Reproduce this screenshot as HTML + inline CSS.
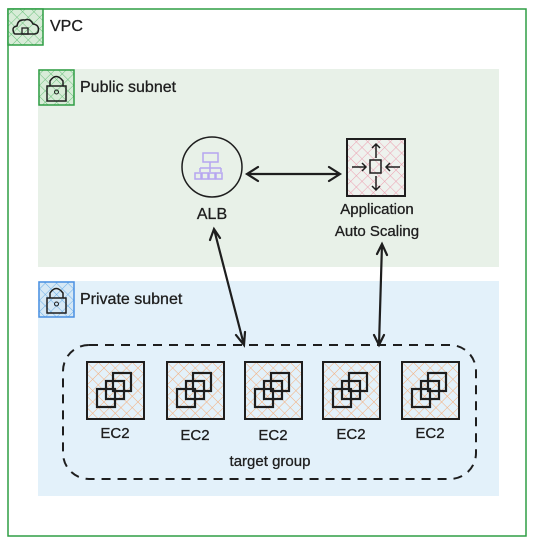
<!DOCTYPE html>
<html><head><style>
html,body{margin:0;padding:0;background:#fff;}
svg text{font-family:"Comic Sans MS","Liberation Sans",sans-serif;fill:#1e1e1e;}
</style></head><body>
<svg width="536" height="544" viewBox="0 0 536 544" xmlns="http://www.w3.org/2000/svg">
<defs>
<pattern id="hg" width="8" height="8" patternUnits="userSpaceOnUse" patternTransform="rotate(45)">
<rect width="8" height="8" fill="#d8ecd8"/><path d="M0 0V8M0 0H8" stroke="#69c07a" stroke-width="1"/></pattern>
<pattern id="hb" width="8" height="8" patternUnits="userSpaceOnUse" patternTransform="rotate(45)">
<rect width="8" height="8" fill="#d6e8f5"/><path d="M0 0V8M0 0H8" stroke="#6aaee8" stroke-width="1"/></pattern>
<pattern id="hr" width="8" height="8" patternUnits="userSpaceOnUse" patternTransform="rotate(45)">
<rect width="8" height="8" fill="#eef2ee"/><path d="M0 0V8M0 0H8" stroke="#ec9fb0" stroke-width="1"/></pattern>
<pattern id="ho" width="8" height="8" patternUnits="userSpaceOnUse" patternTransform="rotate(45)">
<rect width="8" height="8" fill="#e3f1fa"/><path d="M0 0V8M0 0H8" stroke="#f4ad7a" stroke-width="1"/></pattern>
<g id="ec2">
<rect x="0" y="0" width="57" height="57" fill="url(#ho)" stroke="#1e1e1e" stroke-width="2"/>
<rect x="26" y="11" width="18" height="18" fill="none" stroke="#1e1e1e" stroke-width="2.2"/>
<rect x="10" y="27" width="18" height="18" fill="none" stroke="#1e1e1e" stroke-width="2.2"/>
<rect x="19" y="19" width="18" height="18" fill="none" stroke="#1e1e1e" stroke-width="2.2"/>
</g>
</defs>
<rect x="8" y="9" width="518" height="527" fill="#fff" stroke="#2f9e44" stroke-width="1.5"/>
<rect x="8" y="9" width="35" height="36" fill="url(#hg)" stroke="#2f9e44" stroke-width="1.5"/>
<path d="M14 33 Q11 27 17 26 Q18 19 25 20 Q30 18 33 24 Q40 25 38 32 Q37 34 34 34 H16 Q14 34 14 33Z" fill="none" stroke="#1e1e1e" stroke-width="1.5"/>
<rect x="22" y="28" width="6" height="6" fill="none" stroke="#1e1e1e" stroke-width="1.3"/>
<text x="50" y="31" font-size="16" stroke="#1e1e1e" stroke-width="0.3">VPC</text>

<rect x="38" y="69" width="461" height="198" fill="#e8f1e8"/>
<rect x="39" y="70" width="35" height="35" fill="url(#hg)" stroke="#2f9e44" stroke-width="1.5"/>
<rect x="47" y="86" width="19" height="15" fill="none" stroke="#1e1e1e" stroke-width="1.5"/>
<path d="M50 86 V81 Q56 72 63 81 V86" fill="none" stroke="#1e1e1e" stroke-width="1.5"/>
<circle cx="56.5" cy="92" r="2" fill="none" stroke="#1e1e1e"/>
<text x="80" y="92" font-size="16" stroke="#1e1e1e" stroke-width="0.3">Public subnet</text>

<rect x="38" y="281" width="461" height="215" fill="#e3f1fa"/>
<rect x="39" y="282" width="35" height="35" fill="url(#hb)" stroke="#4a90e2" stroke-width="1.5"/>
<rect x="47" y="298" width="19" height="15" fill="none" stroke="#1e1e1e" stroke-width="1.5"/>
<path d="M50 298 V293 Q56 284 63 293 V298" fill="none" stroke="#1e1e1e" stroke-width="1.5"/>
<circle cx="56.5" cy="304" r="2" fill="none" stroke="#1e1e1e"/>
<text x="80" y="304" font-size="16" stroke="#1e1e1e" stroke-width="0.3">Private subnet</text>

<circle cx="212" cy="167" r="30" fill="#e8f1e8" stroke="#1e1e1e" stroke-width="1.5"/>
<g fill="none" stroke="#b6a6f0" stroke-width="1.5">
<rect x="203" y="153" width="15" height="9"/><path d="M210 162V168M200 168H221M200 168V172M221 168V172M210 168V172"/>
<rect x="195" y="173" width="6" height="6"/><rect x="202" y="173" width="6" height="6"/><rect x="209" y="173" width="6" height="6"/><rect x="216" y="173" width="6" height="6"/>
</g>
<text x="212" y="219" font-size="16" text-anchor="middle" stroke="#1e1e1e" stroke-width="0.3">ALB</text>

<rect x="347" y="139" width="58" height="57" fill="url(#hr)" stroke="#1e1e1e" stroke-width="2"/>
<g stroke="#1e1e1e" stroke-width="1.5" fill="none">
<path d="M376 144V158M372 148L376 144L380 148M376 190V176M372 186L376 190L380 186M352 167H366M362 163L366 167L362 171M400 167H386M390 163L386 167L390 171"/>
<rect x="370" y="160" width="11" height="13"/>
</g>
<text x="377" y="214" font-size="15" text-anchor="middle" stroke="#1e1e1e" stroke-width="0.3">Application</text>
<text x="377" y="236" font-size="15" text-anchor="middle" stroke="#1e1e1e" stroke-width="0.3">Auto Scaling</text>

<g stroke="#1e1e1e" stroke-width="2.2" fill="none" stroke-linecap="round">
<path d="M247 174H340M258 167L247 174L258 181M329 167L340 174L329 181"/>
<path d="M214 229L244 345M210 240L214 229L220 238M236 335L244 345L245 332"/>
<path d="M382 244L379 345M377 254L382 244L387 255M374 335L379 345L384 335"/>
</g>
<rect x="63" y="345" width="413" height="134" rx="26" fill="none" stroke="#1e1e1e" stroke-width="2" stroke-dasharray="9 7"/>
<use href="#ec2" x="87" y="362"/>
<use href="#ec2" x="167" y="362"/>
<use href="#ec2" x="245" y="362"/>
<use href="#ec2" x="323" y="362"/>
<use href="#ec2" x="402" y="362"/>
<g font-size="15" text-anchor="middle" stroke="#1e1e1e" stroke-width="0.3">
<text x="115" y="438">EC2</text><text x="195" y="440">EC2</text><text x="273" y="440">EC2</text><text x="351" y="439">EC2</text><text x="430" y="438">EC2</text>
</g>
<text x="270" y="466" font-size="15" text-anchor="middle" stroke="#1e1e1e" stroke-width="0.3">target group</text>
</svg>
</body></html>
